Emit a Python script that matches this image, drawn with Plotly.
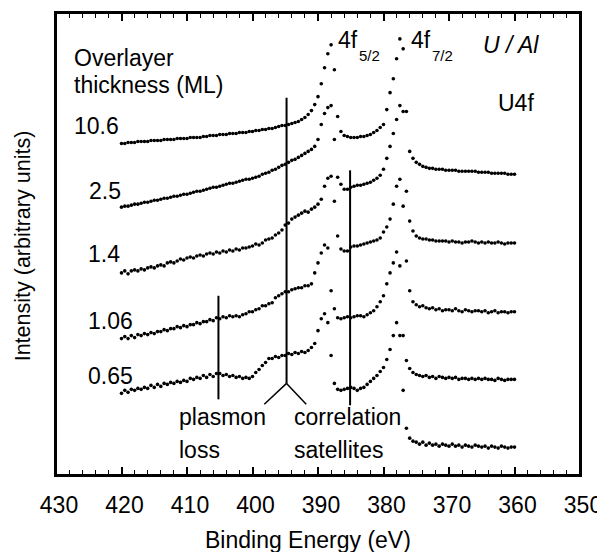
import numpy as np
import plotly.graph_objects as go

# Binding energy grid (eV), 420 -> 360 in 0.5 eV steps
energy = np.linspace(420, 360, 121)

# Intensities (arbitrary units, offset per spectrum)
i_10_6 = [
    358,358,359,359,359,360,360,360,360,361,
    361,361,361,362,362,362,362,363,363,363,
    363,364,364,364,364,365,365,366,366,366,
    367,367,367,368,368,368,369,369,369,370,
    370,371,371,372,372,373,373,374,375,376,
    376,377,378,379,380,382,384,387,391,397,
    405,418,434,448,457,432,385,370,366,365,
    364,364,364,365,365,366,367,369,371,374,
    377,392,409,423,443,463,453,390,350,343,
    339,337,335,334,333,333,332,332,332,331,
    331,331,331,330,330,330,330,330,330,329,
    329,329,329,328,328,328,328,328,327,327,
    327]
i_2_5 = [
    294,295,295,296,297,297,298,299,299,300,
    301,301,302,303,303,304,305,305,306,307,
    307,308,309,310,310,311,312,313,314,314,
    315,316,317,318,318,319,320,321,322,322,
    323,324,325,327,328,329,331,332,334,336,
    337,339,341,342,344,346,348,350,352,355,
    362,377,388,394,396,362,324,317,312,312,
    314,315,316,316,317,318,319,321,323,326,
    332,343,355,368,382,396,390,310,280,270,
    265,263,262,262,261,261,260,260,260,260,
    259,260,259,259,258,259,259,260,259,258,
    259,258,259,258,258,259,258,257,258,258,
    258]
i_1_4 = [
    228,230,227,230,231,230,232,231,233,234,
    233,235,236,235,238,239,238,240,242,241,
    243,244,243,245,246,245,247,248,247,249,
    248,250,249,251,250,252,251,253,253,254,
    255,257,256,258,261,262,263,266,268,271,
    276,278,282,284,286,288,290,289,292,294,
    297,302,315,323,325,300,265,252,250,250,
    254,255,255,256,257,258,259,260,261,263,
    269,274,282,297,315,322,295,240,210,199,
    196,194,195,193,192,193,191,192,190,191,
    191,190,192,190,189,191,190,189,190,190,
    189,190,188,189,190,188,189,189,188,189,
    189]
i_1_06 = [
    162,164,162,165,163,166,165,167,166,168,
    167,169,169,171,170,172,172,174,173,175,
    174,176,176,178,177,179,179,181,180,183,
    182,184,183,185,184,185,184,186,187,189,
    189,191,192,195,195,197,198,203,205,207,
    209,209,211,212,213,213,215,215,217,228,
    238,248,256,253,210,192,183,182,183,184,
    183,184,185,185,184,186,188,190,194,199,
    205,217,228,238,249,235,165,140,132,128,
    126,125,124,125,123,124,122,124,123,122,
    123,122,123,121,122,122,121,122,121,122,
    121,122,121,121,120,122,121,120,121,121,
    121]
i_0_65 = [
    107,110,108,111,110,112,111,113,112,115,
    113,116,114,117,116,118,117,119,118,120,
    119,122,121,123,122,125,123,126,124,127,
    127,125,126,124,125,123,124,122,123,122,
    124,128,131,135,138,142,142,144,143,145,
    145,147,146,148,147,149,148,150,153,157,
    170,182,187,178,145,117,111,110,111,112,
    113,112,110,112,113,116,119,122,125,129,
    133,141,151,165,178,165,110,72,62,59,
    58,56,58,55,57,55,56,54,56,55,
    54,56,54,55,53,55,54,53,55,54,
    53,54,52,54,53,52,54,53,52,53,
    53]

spectra = [i_10_6, i_2_5, i_1_4, i_1_06, i_0_65]
thickness_labels = ["10.6", "2.5", "1.4", "1.06", "0.65"]
label_pos = [(420.1, 376), (419.8, 310), (419.9, 247), (417.9, 180), (417.9, 124)]

FONT = "Liberation Sans, Arial, Helvetica, sans-serif"

fig = go.Figure()
for vals in spectra:
    fig.add_trace(go.Scatter(
        x=energy, y=vals, mode="markers",
        marker=dict(size=3.6, color="black", line=dict(width=0)),
        hoverinfo="skip"))

# frame and marker lines (annotation guides)
line_style = dict(color="black", width=2)
shapes = [
    dict(type="rect", xref="paper", yref="paper", x0=0, x1=1, y0=0, y1=1,
         line=dict(color="black", width=2), fillcolor="rgba(0,0,0,0)", layer="above"),
    dict(type="line", xref="x", yref="y", x0=394.8, x1=394.8, y0=404, y1=117, line=line_style),
    dict(type="line", xref="x", yref="y", x0=394.8, x1=398.2, y0=117, y1=96, line=dict(color="black", width=1.5)),
    dict(type="line", xref="x", yref="y", x0=394.8, x1=391.8, y0=117, y1=96, line=dict(color="black", width=1.5)),
    dict(type="line", xref="x", yref="y", x0=405.2, x1=405.2, y0=205, y1=101, line=line_style),
    dict(type="line", xref="x", yref="y", x0=385.1, x1=385.1, y0=331, y1=95, line=line_style),
]

ann = []
def txt(x, y, s, size=23, xanchor="left", italic=False):
    ann.append(dict(x=x, y=y, xref="x", yref="y", text=s, showarrow=False,
                    xanchor=xanchor, yanchor="middle",
                    font=dict(family=FONT, size=size, color="black",
                              style="italic" if italic else "normal")))

txt(427.6, 444, "Overlayer")
txt(427.6, 417, "thickness (ML)")
for lab, (x, y) in zip(thickness_labels, label_pos):
    txt(x, y, lab, xanchor="right")
txt(387.3, 462, "4f")
txt(384.1, 446, "5/2", size=15)
txt(376.1, 462, "4f")
txt(372.9, 446, "7/2", size=15)
txt(365.1, 457, "U / Al", italic=True)
txt(362.8, 399, "U4f")
txt(411.6, 83, "plasmon")
txt(411.6, 50, "loss")
txt(393.9, 83, "correlation")
txt(393.9, 50, "satellites")

# axis titles
ann.append(dict(x=0.481, y=-0.140, xref="paper", yref="paper", text="Binding Energy (eV)",
                showarrow=False, xanchor="center", yanchor="middle",
                font=dict(family=FONT, size=23, color="black")))
ann.append(dict(x=-0.064, y=0.496, xref="paper", yref="paper", text="Intensity (arbitrary units)",
                showarrow=False, xanchor="center", yanchor="middle", textangle=-90,
                font=dict(family=FONT, size=21.5, color="black")))

tick_common = dict(range=[430, 350], tick0=350, dtick=10, ticks="inside", ticklen=8,
                   tickwidth=1.5, tickcolor="black",
                   minor=dict(ticks="inside", dtick=2, ticklen=5, tickwidth=1, tickcolor="black"),
                   showgrid=False, zeroline=False)

# page body adds an 8 px offset; the figure is sized to compensate
fig.update_layout(
    width=597, height=544,
    margin=dict(l=48, r=19, t=3, b=77),
    paper_bgcolor="white", plot_bgcolor="white",
    showlegend=False,
    shapes=shapes, annotations=ann,
    xaxis=dict(**tick_common, showline=True, linewidth=2, linecolor="black", mirror=True,
               ticklabelstandoff=8, ticklabelshift=-3, ticklabeloverflow="allow",
               tickfont=dict(family=FONT, size=23, color="black")),
    xaxis2=dict(**tick_common, overlaying="x", side="top", showticklabels=False,
                showline=True, linewidth=2, linecolor="black", matches="x"),
    yaxis=dict(range=[25, 489], showline=True, linewidth=2, linecolor="black",
               mirror=True, ticks="", showticklabels=False, showgrid=False, zeroline=False),
)
# invisible trace to activate the top tick axis
fig.add_trace(go.Scatter(x=[400], y=[300], xaxis="x2", mode="markers",
                         marker=dict(size=1, opacity=0), hoverinfo="skip"))

fig.write_html("out.html")
